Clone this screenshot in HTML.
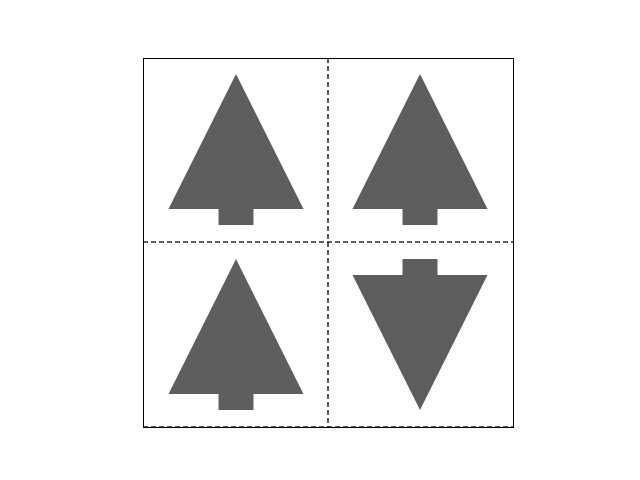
<!DOCTYPE html>
<html><head><meta charset="utf-8"><style>body{margin:0;background:#fff}svg{display:block}</style></head>
<body>
<svg id="chart" width="640" height="480">
<rect x="143.5" y="58.5" width="370" height="369" fill="#fff" stroke="#000" stroke-width="1"/>
<g id="marks"></g>
<line x1="328" y1="58" x2="328" y2="427" stroke="#000" stroke-dasharray="5,3" stroke-width="1.3"/>
<line x1="143" y1="242" x2="513" y2="242" stroke="#000" stroke-dasharray="5,3" stroke-width="1.3"/>
<line x1="143" y1="427" x2="513" y2="427" stroke="#000" stroke-dasharray="5,3" stroke-width="1.3"/>
</svg>
<script>
const centersX = [236, 420, 236, 420];
const apexY = [74, 74, 259, 410];
const baseY = [209, 209, 394, 275];
const names = ['tree-top-left','tree-top-right','tree-bottom-left','tree-bottom-right'];
const halfW = 67.5, trunkHalf = 17.5, trunkH = 16;
const g = document.getElementById('marks');
for (let i = 0; i < centersX.length; i++) {
  const cx = centersX[i], a = apexY[i], b = baseY[i];
  const dir = b > a ? 1 : -1;
  const p = document.createElementNS('http://www.w3.org/2000/svg','path');
  const tEnd = b + dir*trunkH;
  p.setAttribute('d', `M${cx},${a} L${cx+halfW},${b} L${cx+trunkHalf},${b} L${cx+trunkHalf},${tEnd} L${cx-trunkHalf},${tEnd} L${cx-trunkHalf},${b} L${cx-halfW},${b} Z`);
  p.setAttribute('fill', '#5e5e5e');
  
  
  g.appendChild(p);
}
</script>
</body></html>
